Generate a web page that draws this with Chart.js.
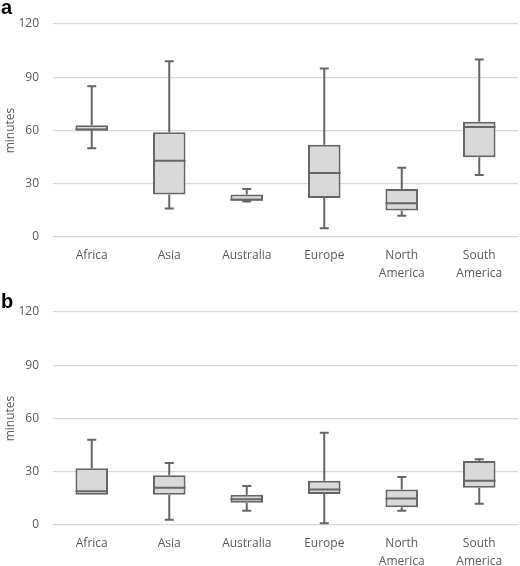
<!DOCTYPE html>
<html>
<head>
<meta charset="utf-8">
<script src="https://cdn.jsdelivr.net/npm/chart.js@4/dist/chart.umd.min.js"></script>
<style>
  html, body { margin: 0; padding: 0; background: #ffffff; }
  .wrap { position: relative; width: 520px; }
  canvas { display: block; }
</style>
</head>
<body>
<div class="wrap"><canvas id="ca" width="520" height="280"></canvas></div>
<div class="wrap"><canvas id="cb" width="520" height="286"></canvas></div>
<script>
// ---- Data ----
const categories = ['Africa', 'Asia', 'Australia', 'Europe', ['North', 'America'], ['South', 'America']];
const yTicks = [0, 30, 60, 90, 120];

// Panel a
const aMin    = [50, 16, 20,   5, 12, 35];
const aQ1     = [60, 24, 20.5, 22, 15, 45];
const aMedian = [60.5, 43, 21, 36, 19, 62];
const aQ3     = [63, 59, 24, 52, 27, 65];
const aMax    = [85, 99, 27, 95, 39, 100];

// Panel b
const bMin    = [17, 3, 8, 1, 8, 12];
const bQ1     = [17, 17, 12.5, 17.5, 10, 21];
const bMedian = [19, 21, 14.5, 20, 15, 25];
const bQ3     = [32, 28, 17, 25, 20, 36];
const bMax    = [48, 35, 22, 52, 27, 37];

// ---- Styles ----
const FONT = "'Open Sans', 'Liberation Sans', sans-serif";
const TEXT = '#595959';
const GRID = '#d9d9d9';
const BOX_FILL = '#d9d9d9';
const LINE = '#666666';

const whiskerPlugin = {
  id: 'whiskers',
  afterDatasetsDraw(chart, args, opts) {
    const ctx = chart.ctx;
    const y = chart.scales.y;
    const meta = chart.getDatasetMeta(0);
    const st = opts.stats;
    ctx.save();
    ctx.strokeStyle = LINE;
    ctx.lineWidth = 2;
    meta.data.forEach((bar, i) => {
      const x = bar.x;
      const half = bar.width / 2;
      const cap = 4.5;
      const pMin = y.getPixelForValue(st.min[i]);
      const pMax = y.getPixelForValue(st.max[i]);
      const pQ1 = y.getPixelForValue(st.q1[i]);
      const pQ3 = y.getPixelForValue(st.q3[i]);
      const pMed = y.getPixelForValue(st.median[i]);
      ctx.beginPath();
      if (st.max[i] > st.q3[i]) {
        ctx.moveTo(x, pQ3); ctx.lineTo(x, pMax);
        ctx.moveTo(x - cap, pMax); ctx.lineTo(x + cap, pMax);
      }
      if (st.min[i] < st.q1[i]) {
        ctx.moveTo(x, pQ1); ctx.lineTo(x, pMin);
        ctx.moveTo(x - cap, pMin); ctx.lineTo(x + cap, pMin);
      }
      ctx.moveTo(x - half, pMed); ctx.lineTo(x + half, pMed);
      ctx.stroke();
    });
    ctx.restore();
  }
};

const panelLabelPlugin = {
  id: 'panelLabel',
  afterDraw(chart, args, opts) {
    const ctx = chart.ctx;
    ctx.save();
    ctx.fillStyle = '#000000';
    ctx.font = "bold 20px 'Liberation Sans', Arial, sans-serif";
    ctx.textBaseline = 'alphabetic';
    ctx.textAlign = 'left';
    ctx.fillText(opts.text, opts.x, opts.y);
    ctx.restore();
  }
};

function makeChart(id, label, stats, topPad, xAxisHeight, labelY) {
  const boxes = stats.q1.map((v, i) => [v, stats.q3[i]]);
  return new Chart(document.getElementById(id), {
    type: 'bar',
    data: {
      labels: categories,
      datasets: [{
        data: boxes,
        backgroundColor: BOX_FILL,
        borderColor: LINE,
        borderWidth: 2,
        borderSkipped: false,
        barPercentage: 0.42,
        categoryPercentage: 1.0
      }]
    },
    options: {
      responsive: false,
      animation: false,
      devicePixelRatio: 1,
      layout: { padding: { top: topPad, right: 2, left: 0, bottom: 0 } },
      plugins: {
        legend: { display: false },
        tooltip: { enabled: false },
        whiskers: { stats: stats },
        panelLabel: { text: label, x: 1, y: labelY }
      },
      scales: {
        x: {
          grid: { display: false, drawTicks: false },
          border: { display: false },
          ticks: {
            color: TEXT,
            font: { family: FONT, size: 12, lineHeight: 1.45 },
            padding: 10,
            maxRotation: 0,
            autoSkip: false
          },
          afterFit(scale) { scale.height = xAxisHeight; }
        },
        y: {
          min: 0,
          max: 120,
          afterBuildTicks(scale) { scale.ticks = yTicks.map(v => ({ value: v })); },
          grid: { color: GRID, lineWidth: 1.2, drawTicks: false },
          border: { display: false },
          ticks: {
            color: TEXT,
            font: { family: FONT, size: 12 },
            padding: 14
          },
          title: {
            display: true,
            text: 'minutes',
            color: TEXT,
            font: { family: FONT, size: 12 },
            padding: { top: 3, bottom: 0 }
          },
          afterFit(scale) { scale.width = 53; }
        }
      }
    },
    plugins: [whiskerPlugin, panelLabelPlugin]
  });
}

makeChart('ca', 'a', { min: aMin, q1: aQ1, median: aMedian, q3: aQ3, max: aMax }, 24, 43, 14);
makeChart('cb', 'b', { min: bMin, q1: bQ1, median: bMedian, q3: bQ3, max: bMax }, 32, 41, 28);
</script>
</body>
</html>
